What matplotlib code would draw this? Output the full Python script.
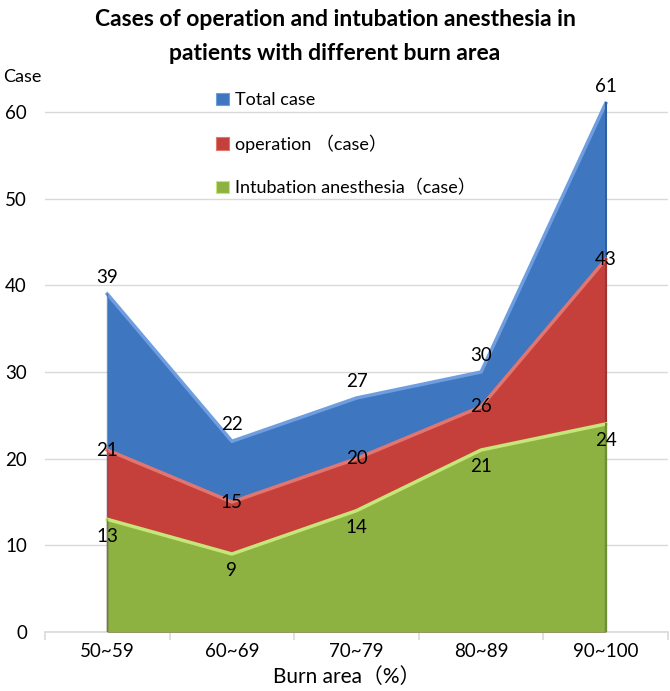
import matplotlib
matplotlib.use("Agg")
import matplotlib.pyplot as plt
from matplotlib.patches import Patch
import numpy as np

categories = ["50~59", "60~69", "70~79", "80~89", "90~100"]
total_case = [39, 22, 27, 30, 61]
operation_case = [21, 15, 20, 26, 43]
intubation_case = [13, 9, 14, 21, 24]
series_names = ["Total case", "operation （case）", "Intubation anesthesia（case）"]
yticks = [0, 10, 20, 30, 40, 50, 60]

FONT = ["Lato", "Noto Sans CJK SC", "DejaVu Sans"]
plt.rcParams["font.family"] = FONT

fig = plt.figure(figsize=(6.7, 6.91), dpi=100)
ax = fig.add_axes([45/670, 59/691, 623/670, (632-60)/691])

x = np.arange(len(categories))
series = [
    (total_case, "#3f76c0", "#6f9ee0", "#2f5f9f"),
    (operation_case, "#c5403b", "#e2756f", "#a23330"),
    (intubation_case, "#8db242", "#c6e67a", "#6f8f30"),
]
for vals, col, light, dark in series:
    ax.fill_between(x, 0, vals, color=col, linewidth=0, zorder=2)
    ax.plot(x, vals, color=light, linewidth=2.5, zorder=3, solid_joinstyle="round")
    ax.plot([x[-1], x[-1]], [0, vals[-1]], color=dark, linewidth=1.5, zorder=3)
    ax.plot([x[0], x[0]], [0, vals[0]], color=dark, linewidth=1.0, zorder=3, alpha=0.6)

ax.set_xlim(-0.5, len(categories) - 0.5)
ax.set_ylim(0, 66)
ax.set_yticks(yticks)
ax.yaxis.grid(True, color="#d9d9d9", linewidth=1.0, zorder=0)
ax.set_axisbelow(True)
for s in ["top", "right", "left"]:
    ax.spines[s].set_visible(False)
ax.spines["bottom"].set_color("#d9d9d9")
ax.spines["bottom"].set_linewidth(1.2)
ax.spines["bottom"].set_zorder(1)

ax.set_xticks(np.arange(-0.5, len(categories)), minor=False)
ax.set_xticklabels([])
ax.tick_params(axis="x", which="major", length=6, color="#d9d9d9", width=1.2, direction="out")
ax.set_xticks(x, minor=True)
ax.set_xticklabels(categories, minor=True)
ax.tick_params(axis="x", which="minor", length=0, pad=8, labelsize=13.5)
ax.tick_params(axis="y", length=0, pad=13, labelsize=13.5)

for i in range(len(categories)):
    ax.annotate(str(total_case[i]), (x[i], total_case[i]), xytext=(0, 12),
                textcoords="offset points", ha="center", va="center", fontsize=13.5, zorder=5)
    ax.annotate(str(operation_case[i]), (x[i], operation_case[i]), xytext=(0, 0),
                textcoords="offset points", ha="center", va="center", fontsize=13.5, zorder=5)
    ax.annotate(str(intubation_case[i]), (x[i], intubation_case[i]), xytext=(0, -12),
                textcoords="offset points", ha="center", va="center", fontsize=13.5, zorder=5)

handles = [Patch(facecolor=c[1], edgecolor=c[2], linewidth=0.8) for c in series]
leg = ax.legend(handles, series_names, loc="upper left", bbox_to_anchor=(155/623, (632-76)/572),
                frameon=False, fontsize=13, labelspacing=1.45, handlelength=0.7,
                handleheight=0.7, handletextpad=0.35)

fig.text(0.5, 1 - 19/691, "Cases of operation and intubation anesthesia in", ha="center",
         va="center", fontsize=16.5, fontweight="bold")
fig.text(0.5, 1 - 53/691, "patients with different burn area", ha="center",
         va="center", fontsize=16.5, fontweight="bold")
fig.text(22/670, 1 - 77/691, "Case", ha="center", va="center", fontsize=13)
fig.text(347/670, 1 - 677/691, "Burn area（%）", ha="center", va="center", fontsize=15)

fig.savefig("out.png", dpi=100)
